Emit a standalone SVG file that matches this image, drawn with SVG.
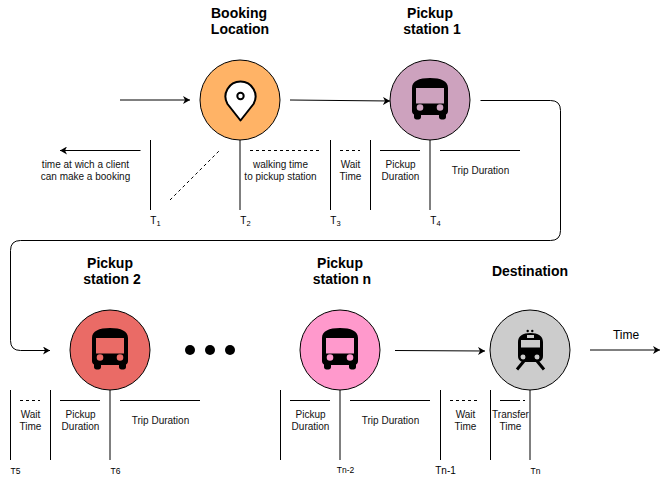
<svg xmlns="http://www.w3.org/2000/svg" width="669" height="481" viewBox="0 0 669 481">
<style>
text{font-family:"Liberation Sans",Arial,sans-serif;fill:#000;text-anchor:middle}
.t{font-size:14px;font-weight:700}
.s{font-size:10px;fill:#111}
.k{font-size:10px}
.n{font-size:8.500px}
.sub{font-size:7.500px}
.c{stroke:#000;stroke-width:1}
.l{stroke:#000;stroke-width:1;fill:none}
.d{stroke-dasharray:3 3}
.ic{fill:#000;fill-rule:evenodd}
</style>
<defs>
<marker id="a" viewBox="0 0 8 8" refX="7" refY="4" markerWidth="8" markerHeight="8" markerUnits="userSpaceOnUse" orient="auto"><path d="M0 0L7 4L0 8L2 4Z" fill="#000"/></marker>
<path id="bus" class="ic" d="M-18-12C-18-19-11-22 0-22S18-19 18-12V11C18 13 17 14 16 14.500V17C16 18.500 15 19.500 13.500 19.500H11.500C10 19.500 9 18.500 9 17V15H-9V17C-9 18.500-10 19.500-11.500 19.500H-13.500C-15 19.500-16 18.500-16 17V14.500C-17 14-18 13-18 11ZM-14-12V3.500H14V-12ZM-10 4.200A3.300 3.300 0 1 0-9.990 10.800A3.300 3.300 0 1 0-10 4.200ZM10 4.200A3.300 3.300 0 1 0 10.010 10.800A3.300 3.300 0 1 0 10 4.200Z"/>
</defs>
<g id="connectors">
<path class="l" marker-end="url(#a)" d="M120 100H190"/>
<path class="l" marker-end="url(#a)" d="M290 100L390 101"/>
<path class="l" marker-end="url(#a)" d="M480.500 100.500H550.500Q560.500 100.500 560.500 110.500V230.500Q560.500 240.500 550.500 240.500H20.500Q10.500 240.500 10.500 250.500V340.500Q10.500 350.500 20.500 350.500H50"/>
<path class="l" marker-end="url(#a)" d="M395 350.500L485 351"/>
<path class="l" marker-end="url(#a)" d="M590 350H660"/>
<path class="l" marker-end="url(#a)" d="M140.500 150.500H60"/>
</g>
<g id="timeline-top" class="l">
<path d="M150.500 140V210M240 140V210M330.500 140V210M370.500 140V210M430 140V210M380 150.500H420M440 150.500H520"/>
<path class="d" d="M170 200L220 150M250 150.500H320M340 150.500H360"/>
</g>
<g id="timeline-bottom" class="l">
<path d="M10.500 390V460M50.500 390V460M110 390V460M60 400.500H100M120 400.500H200M280.500 390V460M340 390V460M440.500 390V460M490.500 390V460M530 390V460M290 400.500H330M350 400.500H430"/>
<path class="d" d="M20 400.500H40M450 400.500H480"/>
<path d="M500 400.500H517"/>
<path class="d" d="M517 400.500H525"/>
</g>
<g id="booking">
<circle class="c" cx="240" cy="100" r="40" fill="#ffb366"/>
<path d="M240.500 120.500L227.500 104A15 15 0 1 1 253.500 104Z" fill="#fff" stroke="#000" stroke-width="2" stroke-linejoin="round"/>
<circle cx="240.500" cy="96" r="3.200" fill="#fff" stroke="#000" stroke-width="2"/>
<text class="t" x="239" y="18">Booking</text><text class="t" x="240" y="34">Location</text>
</g>
<g id="station1">
<circle class="c" cx="430" cy="100" r="40" fill="#cda2be"/>
<use href="#bus" x="430" y="100"/>
<text class="t" x="430" y="18">Pickup</text><text class="t" x="432" y="34">station 1</text>
</g>
<g id="station2">
<circle class="c" cx="110" cy="350" r="40" fill="#ea6b66"/>
<use href="#bus" x="110" y="350"/>
<text class="t" x="110" y="268">Pickup</text><text class="t" x="112" y="284">station 2</text>
</g>
<g id="stationn">
<circle class="c" cx="340" cy="350" r="40" fill="#ff99cc"/>
<use href="#bus" x="340" y="350"/>
<text class="t" x="340" y="268">Pickup</text><text class="t" x="342" y="284">station n</text>
</g>
<g id="destination">
<circle class="c" cx="530" cy="350" r="40" fill="#cccccc"/>
<path class="ic" d="M518 342C518 336 523 333 530.500 333S543 336 543 342V356C543 360 540 362 537 362H524C521 362 518 360 518 356ZM521 340V347.500H540V340ZM527 335V338H534V335ZM523 354.500A2.500 2.500 0 1 0 523.010 359.500A2.500 2.500 0 1 0 523 354.500ZM537 354.500A2.500 2.500 0 1 0 537.010 359.500A2.500 2.500 0 1 0 537 354.500Z"/>
<path d="M524 361L517 369.500M537 361L544 369.500" stroke="#000" stroke-width="3" fill="none"/>
<circle cx="527.700" cy="331" r="1.200"/><circle cx="532.300" cy="331" r="1.200"/>
<text class="t" x="530" y="276">Destination</text>
</g>
<g id="dots"><circle cx="190" cy="350" r="5"/><circle cx="210" cy="350" r="5"/><circle cx="230" cy="350" r="5"/></g>
<g id="labels">
<text x="626" y="339" font-size="12">Time</text>
<text class="s" x="85.500" y="168">time at wich a client</text><text class="s" x="85.500" y="180">can make a booking</text>
<text class="s" x="280.500" y="168">walking time</text><text class="s" x="280.500" y="180">to pickup station</text>
<text class="s" x="350.500" y="168">Wait</text><text class="s" x="350.500" y="180">Time</text>
<text class="s" x="400.500" y="168">Pickup</text><text class="s" x="400.500" y="180">Duration</text>
<text class="s" x="480.500" y="174">Trip Duration</text>
<text class="s" x="30.500" y="418">Wait</text><text class="s" x="30.500" y="430">Time</text>
<text class="s" x="80.500" y="418">Pickup</text><text class="s" x="80.500" y="430">Duration</text>
<text class="s" x="160.500" y="424">Trip Duration</text>
<text class="s" x="310.500" y="418">Pickup</text><text class="s" x="310.500" y="430">Duration</text>
<text class="s" x="390.500" y="424">Trip Duration</text>
<text class="s" x="465.500" y="418">Wait</text><text class="s" x="465.500" y="430">Time</text>
<text class="s" x="510.500" y="418">Transfer</text><text class="s" x="510.500" y="430">Time</text>
<text class="k" x="155.500" y="224">T<tspan class="sub" dy="2">1</tspan></text>
<text class="k" x="245.500" y="224">T<tspan class="sub" dy="2">2</tspan></text>
<text class="k" x="335.500" y="224">T<tspan class="sub" dy="2">3</tspan></text>
<text class="k" x="435.500" y="224">T<tspan class="sub" dy="2">4</tspan></text>
<text class="n" x="15.500" y="474">T5</text>
<text class="n" x="115.500" y="474">T6</text>
<text class="n" x="345.500" y="473">Tn-2</text>
<text class="k" x="445.500" y="474">Tn-1</text>
<text class="n" x="535.500" y="474">Tn</text>
</g>
</svg>
